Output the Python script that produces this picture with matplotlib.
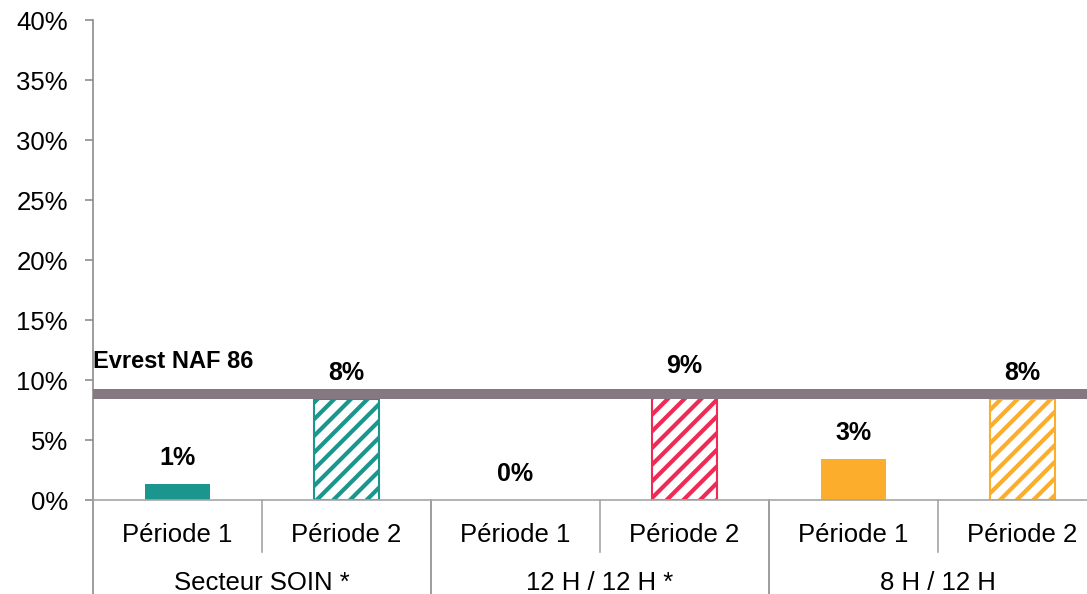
import matplotlib
matplotlib.use('Agg')
import matplotlib.pyplot as plt
from matplotlib.transforms import blended_transform_factory
from matplotlib.lines import Line2D

# Data
groups = ['Secteur SOIN *', '12 H / 12 H *', '8 H / 12 H']
periods = ['Période 1', 'Période 2']
values = [1.3, 8.4, 0.0, 9.0, 3.4, 8.4]
bar_labels = ['1%', '8%', '0%', '9%', '3%', '8%']
ref_value = 8.8
ref_label = 'Evrest NAF 86'
y_ticks = [0, 5, 10, 15, 20, 25, 30, 35, 40]

group_colors = ['#1A968E', '#EE2A55', '#FBAD2B']

plt.rcParams['font.family'] = ['Liberation Sans', 'DejaVu Sans']
plt.rcParams['hatch.linewidth'] = 3.0

fig = plt.figure(figsize=(10.87, 5.94), dpi=100)
# axes run past the right edge like the original crop
ax = fig.add_axes([93 / 1087, 94 / 594, 1014 / 1087, 480 / 594])

x = list(range(len(values)))
for i, v in enumerate(x):
    col = group_colors[i // 2]
    if i % 2 == 0:
        ax.bar(v, values[i], width=0.39, color=col, edgecolor=col, linewidth=0, zorder=2)
    else:
        ax.bar(v, values[i], width=0.39, facecolor='white', edgecolor=col,
               hatch='//', linewidth=1.5, zorder=2)
    ax.annotate(bar_labels[i], (v, values[i]), xytext=(0, 19), textcoords='offset points',
                ha='center', va='center', fontsize=18, fontweight='bold')

# reference line
ax.axhline(ref_value, color='#867880', linewidth=7.2, zorder=3)
ax.text(-0.5, 11.5, ref_label, ha='left', va='center', fontsize=17, fontweight='bold')

ax.set_xlim(-0.5, 5.5)
ax.set_ylim(0, 40)
ax.set_yticks(y_ticks)
ax.set_yticklabels(['%d%%' % t for t in y_ticks], fontsize=18.5)
ax.tick_params(axis='y', length=6, width=1.2, color='#8C8C8C', pad=12)
ax.set_xticks([])

for s in ['top', 'right']:
    ax.spines[s].set_visible(False)
ax.spines['left'].set_color('#8C8C8C')
ax.spines['bottom'].set_color('#A6A6A6')
ax.spines['left'].set_linewidth(1.2)
ax.spines['bottom'].set_linewidth(1.2)

# two-level category axis
trans = blended_transform_factory(ax.transData, ax.transAxes)
px = 1 / 480
for i, v in enumerate(x):
    ax.text(v, -35 * px, periods[i % 2], transform=trans, ha='center', va='center', fontsize=18.5)
for g, name in enumerate(groups):
    ax.text(2 * g + 0.5, -83 * px, name, transform=trans, ha='center', va='center', fontsize=18.5)
for b in [0.5, 2.5, 4.5]:
    ax.add_line(Line2D([b, b], [0, -52 * px], transform=trans, color='#A6A6A6',
                       linewidth=1.2, clip_on=False))
for b in [-0.5, 1.5, 3.5, 5.5]:
    ax.add_line(Line2D([b, b], [0, -100 * px], transform=trans, color='#8C8C8C',
                       linewidth=1.2, clip_on=False))

fig.savefig('out.png', dpi=100)
